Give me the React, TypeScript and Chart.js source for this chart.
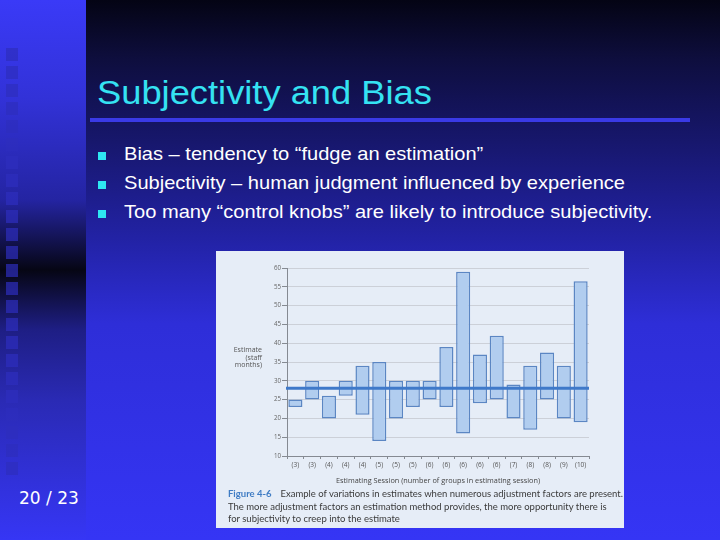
import React, { useEffect, useRef } from "react";
import { Chart, registerables } from "chart.js";

Chart.register(...registerables);

const CATEGORIES = ["(3)", "(3)", "(4)", "(4)", "(4)", "(5)", "(5)", "(5)", "(6)", "(6)", "(6)", "(6)", "(6)", "(7)", "(8)", "(8)", "(9)", "(10)"];
const LOW = [23, 25, 20, 26, 21, 14, 20, 23, 25, 23, 16, 24, 25, 20, 17, 25, 20, 19];
const HIGH = [25, 30, 26, 30, 34, 35, 30, 30, 30, 39, 59, 37, 42, 29, 34, 37.5, 34, 56.5];
const AVERAGE = 28;
const Y_MIN = 10;
const Y_MAX = 60;
const Y_STEP = 5;

const TITLE = "Subjectivity and Bias";
const BULLETS = [
  "Bias – tendency to “fudge an estimation”",
  "Subjectivity – human judgment influenced by experience",
  "Too many “control knobs” are likely to introduce subjectivity.",
];
const Y_LABEL = ["Estimate", "(staff", "months)"];
const X_LABEL = "Estimating Session (number of groups in estimating session)";
const CAPTION_HEAD = "Figure 4-6";
const CAPTION = [
  "Example of variations in estimates when numerous adjustment factors are present.",
  "The more adjustment factors an estimation method provides, the more opportunity there is",
  "for subjectivity to creep into the estimate",
];
const PAGE = "20 / 23";

const FIG_FONT = "'Open Sans', 'DejaVu Sans', sans-serif";

const avgLinePlugin = {
  id: "avgLine",
  afterDatasetsDraw(chart: any) {
    const { ctx, chartArea, scales } = chart;
    const y = scales.y.getPixelForValue(AVERAGE);
    ctx.save();
    ctx.strokeStyle = "#3f79c9";
    ctx.lineWidth = 3;
    ctx.beginPath();
    ctx.moveTo(chartArea.left - 1, y);
    ctx.lineTo(chartArea.right, y);
    ctx.stroke();
    ctx.restore();
  },
};

function FigureChart() {
  const ref = useRef<HTMLCanvasElement | null>(null);
  useEffect(() => {
    if (!ref.current) return;
    const chart = new Chart(ref.current, {
      type: "bar",
      data: {
        labels: CATEGORIES,
        datasets: [
          {
            data: LOW.map((l, i) => [l, HIGH[i]]) as any,
            backgroundColor: "#b1cdef",
            borderColor: "#5b86c3",
            borderWidth: 1.5,
            borderSkipped: false,
            barPercentage: 0.84,
            categoryPercentage: 1,
          },
        ],
      },
      options: {
        animation: false,
        responsive: false,
        maintainAspectRatio: false,
        layout: { padding: { left: 0, right: 35, top: 17, bottom: 0 } },
        plugins: { legend: { display: false }, tooltip: { enabled: false } },
        scales: {
          x: {
            grid: { offset: true, drawOnChartArea: false, drawTicks: true, tickLength: 3, color: "#858a92" },
            border: { color: "#858a92" },
            ticks: { font: { family: FIG_FONT, size: 6.5 }, color: "#555", padding: 2, autoSkip: false, maxRotation: 0 },
            title: {
              display: true,
              text: X_LABEL,
              font: { family: FIG_FONT, size: 7.3 },
              color: "#444",
              padding: { top: 0, bottom: 6 },
            },
            afterFit: (s: any) => {
              s.height = 35;
            },
          },
          y: {
            min: Y_MIN,
            max: Y_MAX,
            ticks: { stepSize: Y_STEP, font: { family: FIG_FONT, size: 6.2 }, color: "#666", padding: 1 },
            grid: { color: "#ccd0d8", tickColor: "#858a92", tickLength: 5 },
            border: { color: "#858a92" },
            afterFit: (s: any) => {
              s.width = 71;
            },
          },
        },
      },
      plugins: [avgLinePlugin],
    });
    return () => chart.destroy();
  }, []);
  return <canvas ref={ref} width={408} height={240} style={{ position: "absolute", left: 0, top: 0, width: 408, height: 240 }} />;
}

export default function App() {
  const squares = [];
  for (let k = 2; k <= 25; k++) {
    squares.push(
      <div
        key={k}
        style={{ position: "absolute", left: 6, top: 12 + 18 * k, width: 12, height: 13, background: "#2d2dbd", opacity: 0.7 }}
      />
    );
  }
  return (
    <div style={{ position: "fixed", left: 0, top: 0, width: 720, height: 540, overflow: "hidden", fontFamily: "'Liberation Sans', Arial, sans-serif" }}>
      <div
        style={{
          position: "absolute",
          left: 0,
          top: 0,
          width: 86,
          height: 540,
          background:
            "linear-gradient(to bottom, #3a3af7 0%, #3232d8 18%, #2424a2 37%, #060614 50%, #1e1e84 61%, #2a2ab4 74%, #3636f5 100%)",
        }}
      />
      {squares}
      <div
        style={{
          position: "absolute",
          left: 86,
          top: 0,
          width: 634,
          height: 540,
          background:
            "linear-gradient(to bottom, #040414 0%, #0e0e3e 11%, #181872 28%, #2222a4 44%, #2e2ed8 60%, #3535f5 100%)",
        }}
      />
      <div
        style={{
          position: "absolute",
          left: 97,
          top: 74,
          fontSize: 33,
          color: "#35e2f2",
          whiteSpace: "nowrap",
          lineHeight: "38px",
          transform: "scaleX(1.1)",
          transformOrigin: "left top",
        }}
      >
        {TITLE}
      </div>
      <div style={{ position: "absolute", left: 90, top: 118, width: 600, height: 4, background: "#3a3ae6" }} />
      {BULLETS.map((b, i) => (
        <div key={i}>
          <div style={{ position: "absolute", left: 98, top: 152 + 29 * i, width: 8, height: 8, background: "#2ee6f2" }} />
          <div
            style={{
              position: "absolute",
              left: 124,
              top: 143 + 29 * i,
              fontSize: 18.5,
              color: "#ffffff",
              whiteSpace: "nowrap",
              lineHeight: "22px",
              transform: "scaleX(1.085)",
              transformOrigin: "left top",
            }}
          >
            {b}
          </div>
        </div>
      ))}
      <div style={{ position: "absolute", left: 19, top: 488, fontSize: 17, color: "#ffffff", fontFamily: "'DejaVu Sans', sans-serif", whiteSpace: "nowrap" }}>
        {PAGE}
      </div>
      <div style={{ position: "absolute", left: 216, top: 251, width: 408, height: 277, background: "#e6edf7" }}>
        <FigureChart />
        <div
          style={{
            position: "absolute",
            right: 408 - 46,
            top: 95,
            textAlign: "right",
            fontFamily: FIG_FONT,
            fontSize: 7,
            lineHeight: "7.6px",
            color: "#555",
            whiteSpace: "nowrap",
          }}
        >
          {Y_LABEL.map((t, i) => (
            <div key={i}>{t}</div>
          ))}
        </div>
        <div
          style={{
            position: "absolute",
            left: 12,
            top: 237,
            fontFamily: "Lato, sans-serif",
            fontSize: 9.5,
            lineHeight: "12.5px",
            color: "#3a3a3a",
            whiteSpace: "nowrap",
          }}
        >
          <div>
            <span style={{ color: "#3f7cc4", fontWeight: 700 }}>{CAPTION_HEAD}</span>
            <span style={{ marginLeft: 9 }}>{CAPTION[0]}</span>
          </div>
          <div>{CAPTION[1]}</div>
          <div>{CAPTION[2]}</div>
        </div>
      </div>
    </div>
  );
}
